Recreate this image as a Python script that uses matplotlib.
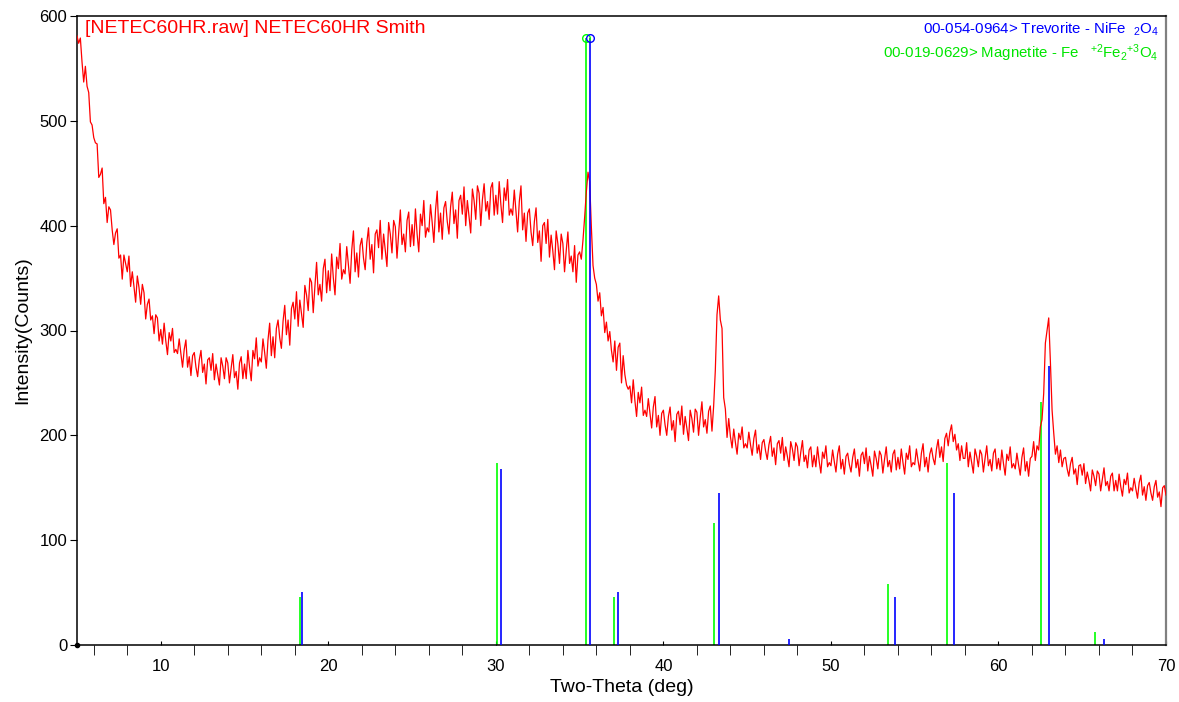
import matplotlib
matplotlib.use("Agg")
import matplotlib.pyplot as plt
import numpy as np
from matplotlib.ticker import MultipleLocator

plt.rcParams['font.family'] = ['Liberation Sans', 'DejaVu Sans']
plt.rcParams['mathtext.default'] = 'regular'

# measured pattern, 2theta from 5.0 to 70.0 in 0.1 deg steps (one row per degree)
two_theta_start = 5.0
two_theta_step = 0.1
counts = [
    581, 574, 579, 556, 537, 552, 533, 527, 499, 496,   # 5
    484, 479, 478, 446, 449, 455, 421, 427, 403, 418,   # 6
    415, 396, 382, 393, 397, 369, 372, 349, 372, 364,   # 7
    356, 371, 342, 356, 342, 327, 352, 341, 325, 344,   # 8
    336, 311, 325, 330, 310, 314, 297, 315, 312, 290,   # 9
    301, 287, 307, 290, 277, 298, 290, 302, 279, 282,   # 10
    278, 292, 278, 265, 282, 291, 265, 275, 257, 276,   # 11
    279, 265, 256, 272, 281, 260, 268, 249, 272, 274,   # 12
    262, 278, 253, 268, 258, 248, 274, 266, 254, 274,   # 13
    269, 250, 264, 277, 255, 261, 244, 269, 275, 254,   # 14
    268, 254, 281, 265, 252, 281, 273, 293, 266, 274,   # 15
    270, 292, 279, 264, 291, 307, 276, 294, 274, 302,   # 16
    310, 293, 283, 309, 324, 296, 310, 286, 321, 327,   # 17
    311, 337, 304, 329, 316, 303, 343, 334, 319, 350,   # 18
    346, 317, 342, 365, 334, 344, 328, 359, 368, 336,   # 19
    357, 338, 373, 350, 334, 370, 359, 383, 349, 358,   # 20
    354, 380, 363, 345, 377, 395, 356, 374, 351, 381,   # 21
    388, 369, 358, 384, 398, 368, 382, 355, 392, 396,   # 22
    379, 405, 368, 392, 377, 361, 403, 392, 374, 405,   # 23
    399, 369, 393, 415, 382, 392, 375, 405, 413, 380,   # 24
    401, 381, 416, 392, 375, 411, 400, 424, 389, 398,   # 25
    394, 420, 403, 384, 415, 433, 394, 412, 387, 417,   # 26
    423, 404, 392, 418, 432, 402, 415, 388, 424, 429,   # 27
    411, 437, 400, 424, 409, 393, 435, 424, 406, 438,   # 28
    431, 400, 425, 440, 414, 423, 406, 436, 441, 410,   # 29
    429, 411, 442, 420, 403, 436, 424, 444, 410, 416,   # 30
    410, 434, 414, 394, 423, 438, 396, 412, 385, 412,   # 31
    416, 394, 381, 404, 417, 384, 395, 366, 400, 403,   # 32
    383, 406, 370, 391, 376, 358, 395, 383, 364, 392,   # 33
    383, 356, 376, 394, 364, 371, 356, 381, 346, 372,   # 34
    375, 368, 386, 408, 432, 451, 442, 399, 362, 350,   # 35
    344, 328, 336, 314, 322, 298, 308, 290, 299, 281,   # 36
    270, 290, 262, 284, 288, 250, 276, 258, 248, 244,   # 37
    247, 231, 253, 233, 218, 241, 231, 246, 219, 224,   # 38
    218, 235, 221, 207, 227, 237, 208, 219, 200, 221,   # 39
    224, 210, 200, 218, 227, 205, 214, 194, 220, 223,   # 40
    210, 228, 201, 218, 207, 195, 224, 216, 203, 225,   # 41
    222, 200, 217, 232, 208, 215, 202, 223, 228, 204,   # 42
    228, 262, 315, 333, 310, 302, 236, 225, 198, 216,   # 43
    199, 188, 206, 193, 182, 202, 196, 208, 188, 192,   # 44
    188, 203, 191, 181, 197, 205, 183, 191, 177, 193,   # 45
    196, 185, 177, 191, 199, 180, 188, 172, 192, 195,   # 46
    183, 198, 176, 189, 180, 170, 194, 187, 176, 193,   # 47
    189, 171, 184, 195, 175, 181, 169, 186, 189, 170,   # 48
    181, 170, 189, 175, 164, 184, 178, 190, 170, 174,   # 49
    171, 186, 175, 165, 182, 190, 168, 177, 163, 180,   # 50
    183, 172, 165, 179, 187, 169, 177, 161, 181, 184,   # 51
    173, 188, 166, 180, 171, 161, 185, 178, 168, 185,   # 52
    181, 164, 177, 189, 170, 176, 165, 182, 186, 167,   # 53
    179, 168, 187, 174, 163, 183, 177, 190, 170, 174,   # 54
    172, 187, 176, 166, 183, 192, 170, 179, 165, 182,   # 55
    188, 178, 172, 187, 196, 179, 189, 175, 197, 202,   # 56
    190, 203, 210, 194, 201, 186, 192, 176, 190, 178,   # 57
    178, 193, 170, 184, 174, 164, 187, 180, 170, 186,   # 58
    182, 165, 178, 190, 171, 177, 166, 183, 187, 168,   # 59
    178, 167, 186, 173, 162, 182, 176, 189, 169, 173,   # 60
    168, 183, 172, 162, 179, 188, 166, 175, 161, 178,   # 61
    180, 194, 176, 190, 186, 208, 215, 240, 288, 300,   # 62
    312, 270, 224, 202, 182, 190, 174, 186, 170, 178,   # 63
    179, 168, 161, 173, 179, 163, 168, 153, 171, 172,   # 64
    162, 173, 154, 165, 157, 147, 167, 161, 152, 166,   # 65
    163, 147, 158, 169, 152, 156, 147, 161, 164, 147,   # 66
    157, 147, 163, 151, 142, 158, 153, 164, 145, 150,   # 67
    147, 159, 149, 140, 155, 162, 143, 151, 138, 152,   # 68
    155, 145, 138, 151, 157, 141, 146, 132, 150, 152,   # 69
    143,                                                # 70
]

# reference cards (stick patterns)
trevorite_pos = [18.43, 30.31, 35.62, 37.29, 43.32, 47.50, 53.82, 57.35, 63.02, 66.30]
trevorite_int = [51, 168, 579, 51, 145, 6, 46, 145, 266, 6]
magnetite_pos = [18.31, 30.07, 35.40, 37.05, 43.02, 53.41, 56.93, 62.54, 65.76]
magnetite_int = [46, 174, 579, 46, 116, 58, 174, 232, 12]

title_text = "[NETEC60HR.raw] NETEC60HR Smith"
trevorite_label = "00-054-0964> Trevorite - NiFe  $_2$O$_4$"
magnetite_label = "00-019-0629> Magnetite - Fe   $^{+2}$Fe$_2$$^{+3}$O$_4$"

two_theta = two_theta_start + two_theta_step * np.arange(len(counts))

fig = plt.figure(figsize=(11.79, 7.02), dpi=100)
ax = fig.add_axes([77 / 1179, 1 - 645 / 702, 1089 / 1179, 629 / 702])

ax.plot(two_theta, counts, color='#ff0000', lw=0.9, zorder=3)
ax.vlines(magnetite_pos, 0, magnetite_int, color='#00ff00', lw=1.2, zorder=2)
ax.vlines(trevorite_pos, 0, trevorite_int, color='#0000ff', lw=1.2, zorder=4)

# open circles on the 100% lines
i_m = int(np.argmax(magnetite_int))
i_t = int(np.argmax(trevorite_int))
ax.plot(magnetite_pos[i_m], magnetite_int[i_m], 'o', mfc='none', mec='#00ff00', ms=5.5, mew=1.0, zorder=5)
ax.plot(trevorite_pos[i_t], trevorite_int[i_t], 'o', mfc='none', mec='#0000ff', ms=5.5, mew=1.0, zorder=5)

# little dot at origin
ax.plot(5, 0, 'o', color='black', ms=3, clip_on=False, zorder=6)

ax.set_xlim(5, 70)
ax.set_ylim(0, 600)
ax.xaxis.set_major_locator(MultipleLocator(10))
ax.xaxis.set_minor_locator(MultipleLocator(2))
ax.yaxis.set_major_locator(MultipleLocator(100))
ax.tick_params(axis='x', which='major', direction='in', length=3, labelsize=12, pad=10)
ax.tick_params(axis='x', which='minor', direction='out', length=7)
ax.tick_params(axis='y', which='major', direction='out', length=5, labelsize=12, pad=2)
ax.spines['right'].set_color('#808080')
ax.spines['right'].set_linewidth(1.6)
for s in ['left', 'bottom', 'top']:
    ax.spines[s].set_linewidth(1.1)

ax.set_xlabel('Two-Theta (deg)', fontsize=14, labelpad=4)
ax.set_ylabel('Intensity(Counts)', fontsize=14, labelpad=6)

ax.text(0.007, 0.993, title_text, transform=ax.transAxes, color='#ff0000',
        fontsize=14, ha='left', va='top')
ax.text(0.9935, 0.993, trevorite_label, transform=ax.transAxes, color='#0000ff',
        fontsize=10.8, ha='right', va='top')
ax.text(0.9935, 0.958, magnetite_label, transform=ax.transAxes, color='#00e600',
        fontsize=10.8, ha='right', va='top')

fig.savefig('out.png', dpi=100)
